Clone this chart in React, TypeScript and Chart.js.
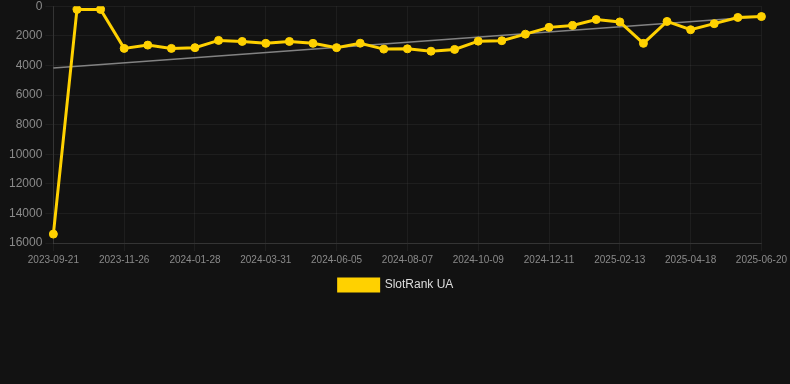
import React, { useEffect, useRef } from "react";
import { Chart, registerables } from "chart.js";

Chart.register(...registerables);

const dateLabels = [
  "2023-09-21", "2023-10-13", "2023-11-04", "2023-11-26", "2023-12-17", "2024-01-07",
  "2024-01-28", "2024-02-18", "2024-03-10", "2024-03-31", "2024-04-21", "2024-05-14",
  "2024-06-05", "2024-06-26", "2024-07-17", "2024-08-07", "2024-08-28", "2024-09-18",
  "2024-10-09", "2024-10-30", "2024-11-20", "2024-12-11", "2025-01-01", "2025-01-23",
  "2025-02-13", "2025-03-06", "2025-03-28", "2025-04-18", "2025-05-09", "2025-05-30",
  "2025-06-20",
];

const rankValues = [
  15400, 220, 220, 2850, 2630, 2850, 2800, 2310, 2380, 2510, 2380, 2510,
  2800, 2500, 2900, 2880, 3040, 2920, 2360, 2330, 1890, 1430, 1300, 900,
  1060, 2510, 1030, 1590, 1180, 760, 700,
];

const trendStart = 4180;
const trendEnd = 700;

const yTicks = { min: 0, max: 16000, step: 2000 };

const seriesName = "SlotRank UA";

export default function App() {
  const ref = useRef<HTMLCanvasElement | null>(null);

  useEffect(() => {
    document.body.style.margin = "0";
    document.body.style.background = "#121212";
    if (!ref.current) return;
    const trendData = dateLabels.map((_, i) =>
      i === 0 ? trendStart : i === dateLabels.length - 1 ? trendEnd : null
    );
    const chart = new Chart(ref.current, {
      type: "line",
      data: {
        labels: dateLabels,
        datasets: [
          {
            label: seriesName,
            data: rankValues,
            borderColor: "#FFD100",
            backgroundColor: "#FFD100",
            pointBackgroundColor: "#FFD100",
            pointBorderColor: "#FFD100",
            borderWidth: 3,
            pointRadius: 4,
            pointBorderWidth: 1,
            tension: 0,
            order: 1,
          },
          {
            label: "trend",
            data: trendData,
            borderColor: "rgba(150,150,150,0.85)",
            borderWidth: 1.5,
            pointRadius: 0,
            spanGaps: true,
            order: 2,
          },
        ],
      },
      options: {
        animation: false,
        responsive: false,
        maintainAspectRatio: false,
        layout: { padding: { left: 6, right: 4 } },
        plugins: {
          legend: {
            position: "bottom",
            labels: {
              color: "#dddddd",
              font: { family: "Liberation Sans, Arial", size: 12 },
              boxWidth: 40,
              boxHeight: 12,
              filter: (item) => item.text === seriesName,
            },
          },
          tooltip: { enabled: false },
        },
        scales: {
          x: {
            grid: { color: "rgba(255,255,255,0.05)" },
            border: { color: "rgba(255,255,255,0.1)" },
            ticks: {
              color: "#8a8a8a",
              font: { family: "Liberation Sans, Arial", size: 10 },
              autoSkip: false,
              maxRotation: 0,
              callback: (_v, i) => (i % 3 === 0 ? dateLabels[i] : null),
            },
          },
          y: {
            reverse: true,
            min: yTicks.min,
            max: yTicks.max,
            grid: { color: "rgba(255,255,255,0.05)" },
            border: { color: "rgba(255,255,255,0.1)" },
            ticks: {
              stepSize: yTicks.step,
              color: "#8a8a8a",
              font: { family: "Liberation Sans, Arial", size: 12 },
              callback: (v) => String(v),
            },
          },
        },
      },
    });
    return () => chart.destroy();
  }, []);

  return (
    <div style={{ width: 790, height: 384, background: "#121212", overflow: "hidden" }}>
      <canvas
        ref={ref}
        width={790}
        height={305}
        style={{ display: "block", marginTop: -4 }}
      />
    </div>
  );
}
